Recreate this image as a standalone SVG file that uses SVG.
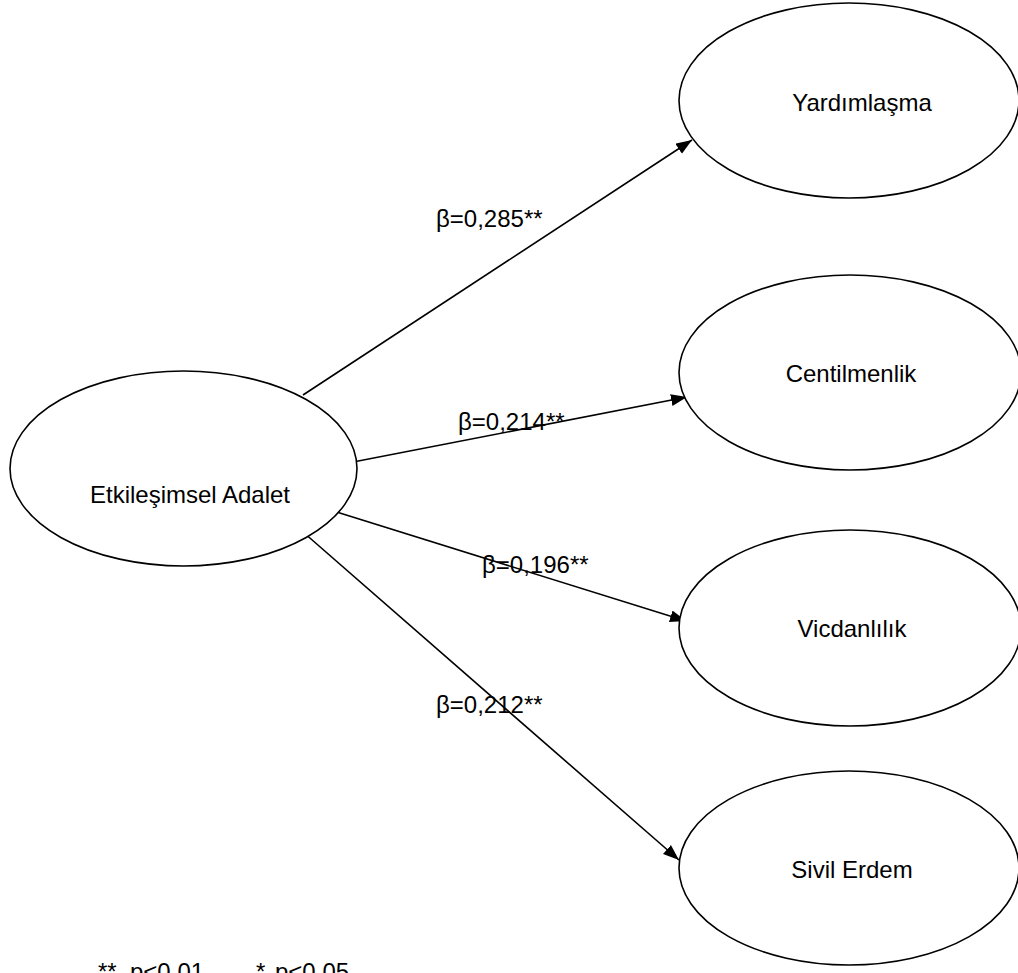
<svg xmlns="http://www.w3.org/2000/svg" width="1018" height="973" viewBox="0 0 1018 973">
  <style>
    .node { fill: #ffffff; stroke: #000000; stroke-width: 1.6; }
    .edge { fill: none; stroke: #000000; stroke-width: 1.6; }
    text { font-family: "Liberation Sans", Arial, sans-serif; font-size: 24px; fill: #000000; }
    .mid { text-anchor: middle; }
  </style>
  <defs>
    <marker id="arrow" markerUnits="userSpaceOnUse" markerWidth="18" markerHeight="14" refX="16" refY="6" orient="auto">
      <path d="M0,0 L16,6 L0,12 z" fill="#000000"/>
    </marker>
  </defs>

  <rect x="0" y="0" width="1018" height="973" fill="#ffffff"/>

  <!-- connectors -->
  <g id="connectors">
    <line class="edge" x1="303" y1="395" x2="692" y2="140" marker-end="url(#arrow)"/>
    <line class="edge" x1="348" y1="463" x2="687" y2="397" marker-end="url(#arrow)"/>
    <line class="edge" x1="327" y1="509" x2="686" y2="621" marker-end="url(#arrow)"/>
    <line class="edge" x1="303" y1="532" x2="679" y2="860" marker-end="url(#arrow)"/>
  </g>

  <!-- source construct -->
  <g id="etkilesimsel-adalet">
    <ellipse class="node" cx="183.5" cy="468.5" rx="173.5" ry="97.5"/>
    <text class="mid" x="190" y="503">Etkileşimsel Adalet</text>
  </g>

  <!-- outcome constructs -->
  <g id="yardimlasma">
    <ellipse class="node" cx="849" cy="100.5" rx="170" ry="97.5"/>
    <text class="mid" x="862" y="111">Yardımlaşma</text>
  </g>
  <g id="centilmenlik">
    <ellipse class="node" cx="850" cy="372.5" rx="171" ry="97.5"/>
    <text class="mid" x="851" y="382">Centilmenlik</text>
  </g>
  <g id="vicdanlilik">
    <ellipse class="node" cx="850" cy="628" rx="171" ry="98"/>
    <text class="mid" x="852" y="637">Vicdanlılık</text>
  </g>
  <g id="sivil-erdem">
    <ellipse class="node" cx="849" cy="868" rx="170" ry="97"/>
    <text class="mid" x="852" y="878">Sivil Erdem</text>
  </g>

  <!-- path coefficients -->
  <g id="coefficients">
    <text x="436" y="227">β=0,285**</text>
    <text x="458" y="430">β=0,214**</text>
    <text x="482" y="573">β=0,196**</text>
    <text x="436" y="713">β=0,212**</text>
  </g>

  <!-- significance note -->
  <g id="note">
    <text y="980"><tspan x="98">**</tspan><tspan x="130">p&lt;0.01</tspan><tspan x="256">*</tspan><tspan x="275">p&lt;0.05</tspan></text>
  </g>
</svg>
